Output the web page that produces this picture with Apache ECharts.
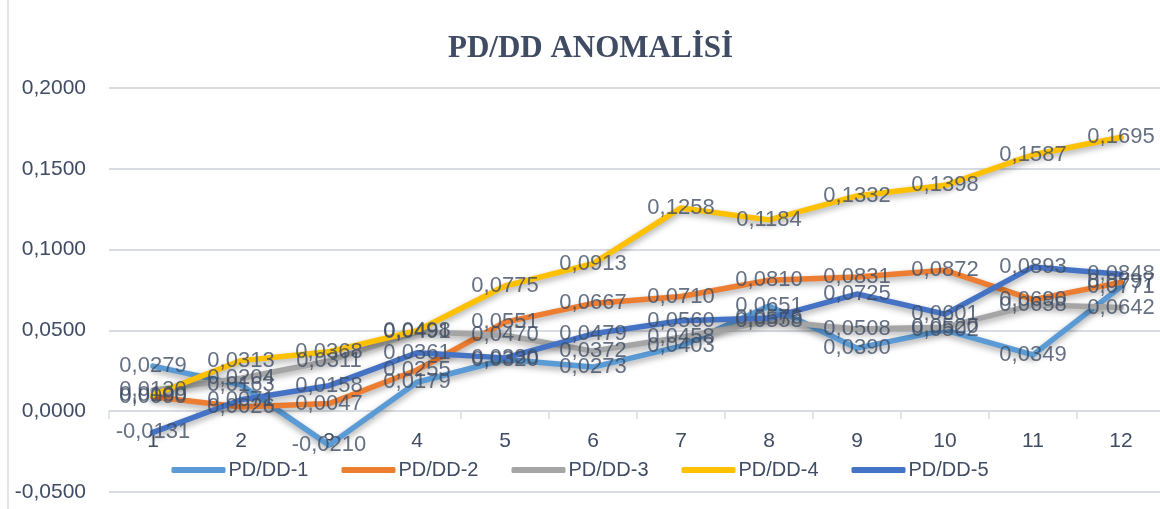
<!DOCTYPE html>
<html>
<head>
<meta charset="utf-8">
<script src="https://cdn.jsdelivr.net/npm/echarts@6/dist/echarts.min.js"></script>
<style>
  html, body { margin: 0; padding: 0; background: #ffffff; }
  #chart { width: 1160px; height: 509px; }
</style>
</head>
<body>
<div id="chart"></div>
<script>
// Months on the x axis
const months = ['1', '2', '3', '4', '5', '6', '7', '8', '9', '10', '11', '12'];

// Monthly PD/DD anomaly values per portfolio
const pd1 = [0.0279, 0.0163, -0.0210, 0.0179, 0.0320, 0.0273, 0.0403, 0.0651, 0.0390, 0.0502, 0.0349, 0.0771];
const pd2 = [0.0090, 0.0026, 0.0047, 0.0255, 0.0551, 0.0667, 0.0710, 0.0810, 0.0831, 0.0872, 0.0690, 0.0797];
const pd3 = [0.0130, 0.0204, 0.0311, 0.0491, 0.0470, 0.0372, 0.0458, 0.0558, 0.0508, 0.0520, 0.0658, 0.0642];
const pd4 = [0.0100, 0.0313, 0.0368, 0.0498, 0.0775, 0.0913, 0.1258, 0.1184, 0.1332, 0.1398, 0.1587, 0.1695];
const pd5 = [-0.0131, 0.0071, 0.0158, 0.0361, 0.0330, 0.0479, 0.0560, 0.0576, 0.0725, 0.0601, 0.0893, 0.0848];

const seriesNames = ['PD/DD-1', 'PD/DD-2', 'PD/DD-3', 'PD/DD-4', 'PD/DD-5'];
const seriesData = [pd1, pd2, pd3, pd4, pd5];
const colors = ['#5B9BD5', '#ED7D31', '#A5A5A5', '#FFC000', '#4472C4'];

const textColor = '#3F4C63';
const gridColor = '#D9DDE3';
const fmt = v => v.toFixed(4).replace('.', ',');

// Value range of the y axis; the category axis is drawn across its zero line
const yMin = -0.05, yMax = 0.2, yStep = 0.05;
const gridTop = 88, gridBottom = 17, chartHeight = 509;
const zeroOffset = (chartHeight - gridTop - gridBottom) * (0 - yMin) / (yMax - yMin);

const chart = echarts.init(document.getElementById('chart'), null, { renderer: 'canvas' });

const lineSeries = seriesData.map((d, i) => ({
  name: seriesNames[i],
  type: 'line',
  data: d,
  color: colors[i],
  symbol: 'none',
  lineStyle: {
    width: 5.5,
    color: colors[i],
    cap: 'round',
    join: 'round',
    shadowColor: 'rgba(0,0,0,0.35)',
    shadowBlur: 6,
    shadowOffsetY: 3
  },
  z: 2
}));

// Value labels sit above every line, centred on each point
const labelSeries = seriesData.map((d, i) => ({
  name: seriesNames[i] + ' etiket',
  type: 'scatter',
  data: d,
  symbolSize: 0,
  silent: true,
  z: 10,
  label: {
    show: true,
    position: 'inside',
    formatter: p => fmt(p.value),
    color: textColor,
    fontFamily: 'Liberation Sans, Arial, sans-serif',
    fontSize: 22
  }
}));

chart.setOption({
  backgroundColor: '#ffffff',
  animation: false,
  color: colors,
  title: {
    text: 'PD/DD ANOMALİSİ',
    left: 443,
    top: 28,
    textStyle: {
      fontFamily: 'Liberation Serif, Times New Roman, serif',
      fontWeight: 'bold',
      fontSize: 31,
      color: textColor
    }
  },
  legend: {
    data: seriesNames,
    bottom: 24,
    left: 'center',
    icon: 'roundRect',
    itemWidth: 54,
    itemHeight: 6,
    itemGap: 33,
    textStyle: {
      fontFamily: 'Liberation Sans, Arial, sans-serif',
      fontSize: 20,
      color: textColor,
      padding: [0, 0, 0, -2]
    }
  },
  grid: {
    left: 109,
    right: -5,
    top: gridTop,
    bottom: gridBottom,
    containLabel: false,
    outerBoundsMode: 'none'
  },
  xAxis: {
    type: 'category',
    data: months,
    boundaryGap: true,
    position: 'bottom',
    offset: -zeroOffset,
    axisLine: { onZero: false, lineStyle: { color: gridColor, width: 1.5 } },
    axisTick: { show: true, length: 8, lineStyle: { color: gridColor, width: 1.5 } },
    axisLabel: {
      margin: 20,
      color: textColor,
      fontFamily: 'Liberation Sans, Arial, sans-serif',
      fontSize: 21,
      hideOverlap: false
    },
    splitLine: { show: false }
  },
  yAxis: {
    type: 'value',
    min: yMin,
    max: yMax,
    interval: yStep,
    axisLine: { show: false },
    axisTick: { show: false },
    axisLabel: {
      margin: 23,
      formatter: v => fmt(v),
      color: textColor,
      fontFamily: 'Liberation Sans, Arial, sans-serif',
      fontSize: 21
    },
    splitLine: { lineStyle: { color: gridColor, width: 2 } }
  },
  graphic: [{
    type: 'line',
    shape: { x1: 8, y1: 0, x2: 8, y2: 509 },
    style: { stroke: gridColor, lineWidth: 1.5 },
    silent: true
  }],
  series: lineSeries.concat(labelSeries)
});
</script>
</body>
</html>
